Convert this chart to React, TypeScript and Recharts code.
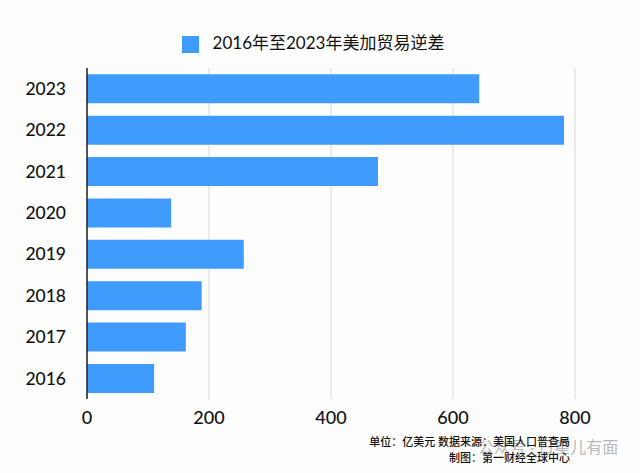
import { BarChart, Bar, XAxis, YAxis, CartesianGrid, Legend } from "recharts";

const years = ["2023", "2022", "2021", "2020", "2019", "2018", "2017", "2016"];
const deficits = [643, 782, 477, 138, 257, 188, 162, 110];
const xTicks = [0, 200, 400, 600, 800];
const seriesName = "2016年至2023年美加贸易逆差";
const sourceLines = ["单位：亿美元 数据来源：美国人口普查局", "制图：第一财经全球中心"];
const watermark = "公众号 · 日星儿有面";

const data = years.map((year, i) => ({ year, deficit: deficits[i] }));
const FONT = 'Lato, "Noto Sans CJK SC", sans-serif';

export default function App() {
  return (
    <div style={{ position: "absolute", left: 0, top: 0, width: 640, height: 473, background: "#fdfdfd", fontFamily: FONT, overflow: "hidden" }}>
      <BarChart
        width={640}
        height={473}
        data={data}
        layout="vertical"
        barCategoryGap={6.25}
        margin={{ top: 43, right: 65, bottom: 0, left: 0 }}
      >
        <CartesianGrid horizontal={false} stroke="#d8d8dc" strokeWidth={1} />
        <XAxis
          type="number"
          domain={[0, 800]}
          ticks={xTicks}
          height={74}
          axisLine={false}
          tickLine={false}
          tickMargin={6}
          tick={{ fill: "#111", fontSize: 18, fontFamily: FONT, fontWeight: 500 }}
        />
        <YAxis
          type="category"
          dataKey="year"
          width={87}
          axisLine={{ stroke: "#222", strokeWidth: 1.5 }}
          tickLine={false}
          tickMargin={15}
          tick={{ fill: "#111", fontSize: 17.5, fontFamily: FONT, fontWeight: 500 }}
        />
        <Legend
          verticalAlign="top"
          align="center"
          iconType="square"
          iconSize={17}
          wrapperStyle={{ top: 29, left: -2, width: 640, fontSize: 17, fontFamily: FONT }}
          formatter={(value) => <span style={{ color: "#111", marginLeft: 10 }}>{value}</span>}
        />
        <Bar dataKey="deficit" name={seriesName} fill="#3f9bfc" isAnimationActive={false} />
      </BarChart>
      <div style={{ position: "absolute", left: 478, top: 434, fontSize: 16, color: "#b9b9b9", whiteSpace: "nowrap" }}>{watermark}</div>
      <div style={{ position: "absolute", right: 70, top: 434, textAlign: "right", fontSize: 11, fontWeight: 500, lineHeight: "16px", color: "#111", whiteSpace: "nowrap" }}>
        {sourceLines.map((line) => (
          <div key={line}>{line}</div>
        ))}
      </div>
    </div>
  );
}
